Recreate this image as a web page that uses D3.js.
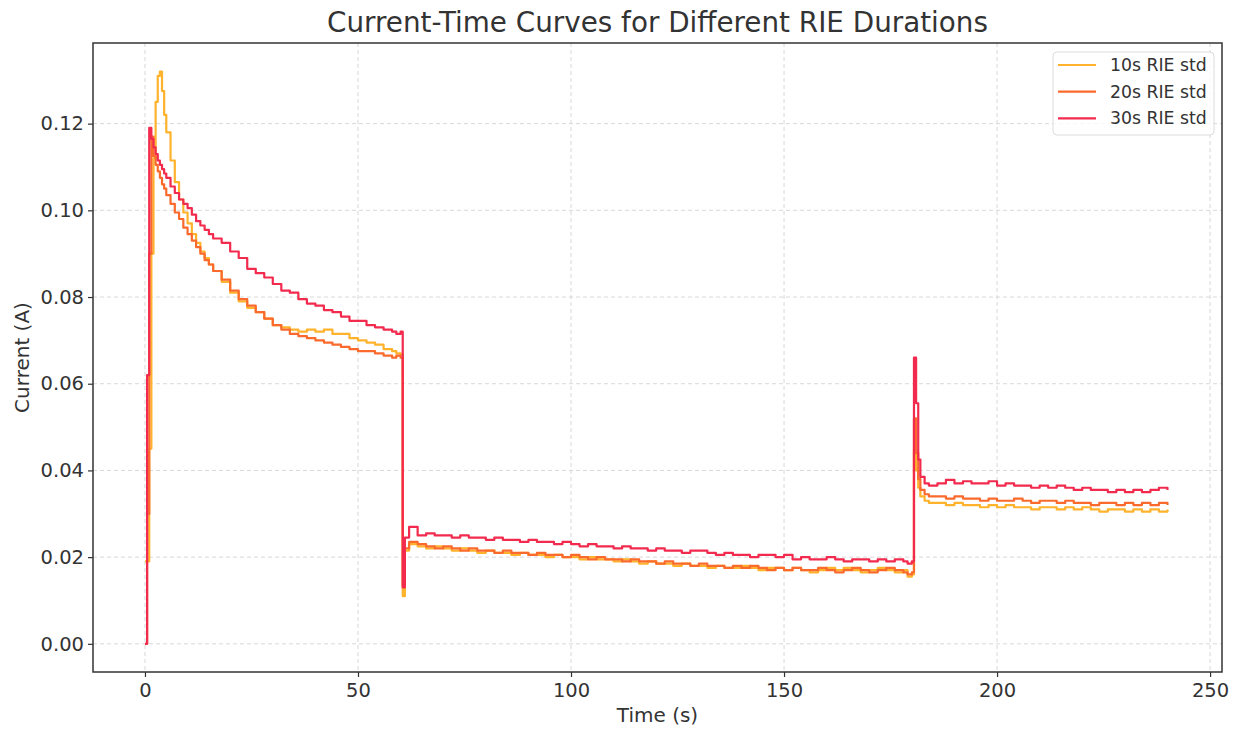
<!DOCTYPE html>
<html>
<head>
<meta charset="utf-8">
<script src="https://cdn.jsdelivr.net/npm/d3@7"></script>
<style>
  body { margin: 0; background: #fff; }
  svg { display: block; font-family: "DejaVu Sans", sans-serif; }
</style>
</head>
<body>
<svg width="1243" height="729"></svg>
<script>
// sample times (s)
const times = [
  0, 0.5, 1, 1.5, 2, 2.5, 3, 3.5, 4, 4.5, 5,
  6, 7, 8, 9, 10, 11, 12, 13, 14, 15, 16,
  18, 20, 22, 24, 26, 28, 30, 32, 34, 36, 38, 40, 42, 44, 46, 48, 50, 52, 54, 56, 58,
  59, 60,
  60.5, 61,
  62, 64, 66, 68, 70, 72, 74, 76, 78, 80,
  82, 84, 86, 88, 90, 92, 94, 96, 98, 100,
  102, 104, 106, 108, 110, 112, 114, 116, 118, 120,
  122, 124, 126, 128, 130, 132, 134, 136, 138, 140,
  142, 144, 146, 148, 150, 152, 154, 156, 158, 160,
  162, 164, 166, 168, 170, 172, 174, 176, 178,
  179, 180,
  180.5, 181, 181.5, 182, 183, 184,
  186, 188, 190, 192, 194, 196, 198, 200, 202, 204,
  206, 208, 210, 212, 214, 216, 218, 220, 222, 224,
  226, 228, 230, 232, 234, 236, 238, 240
];

// current (A), 10s RIE std
const rie10 = [
  0.019, 0.019, 0.045, 0.09, 0.112, 0.125, 0.131, 0.132, 0.1275, 0.122, 0.118,
  0.1115, 0.1065, 0.1025, 0.0995, 0.097, 0.0945, 0.0925, 0.0905, 0.089, 0.0875, 0.086,
  0.0835, 0.081, 0.079, 0.0775, 0.0765, 0.075, 0.0735, 0.073, 0.0725, 0.072, 0.0725, 0.072, 0.0725, 0.0715, 0.0715, 0.0705, 0.07, 0.0695, 0.069, 0.068, 0.0675,
  0.067, 0.0668,
  0.011, 0.0215,
  0.023, 0.0225, 0.022, 0.0225, 0.022, 0.0215, 0.022, 0.0215, 0.021, 0.0215,
  0.021, 0.021, 0.0205, 0.021, 0.0205, 0.0205, 0.02, 0.0205, 0.02, 0.02,
  0.0195, 0.02, 0.0195, 0.0195, 0.019, 0.0195, 0.019, 0.0185, 0.019, 0.0185,
  0.0185, 0.018, 0.0185, 0.018, 0.018, 0.0175, 0.018, 0.0175, 0.0175, 0.018,
  0.0175, 0.017, 0.0175, 0.0175, 0.017, 0.0175, 0.017, 0.0165, 0.017, 0.0175,
  0.017, 0.0175, 0.017, 0.0165, 0.017, 0.0175, 0.017, 0.0165, 0.017,
  0.0155, 0.016,
  0.045, 0.04, 0.036, 0.034, 0.033, 0.0325,
  0.0325, 0.032, 0.0325, 0.032, 0.032, 0.0315, 0.032, 0.0315, 0.032, 0.0315,
  0.0315, 0.031, 0.0315, 0.0315, 0.031, 0.0315, 0.031, 0.0315, 0.031, 0.0305,
  0.031, 0.031, 0.0305, 0.031, 0.0305, 0.031, 0.0305, 0.031
];

// current (A), 20s RIE std
const rie20 = [
  0, 0.03, 0.09, 0.117, 0.1125, 0.1105, 0.109, 0.1075, 0.106, 0.105, 0.1035,
  0.1015, 0.0995, 0.098, 0.096, 0.0945, 0.093, 0.0915, 0.09, 0.0885, 0.0875, 0.086,
  0.084, 0.0815, 0.0795, 0.078, 0.0765, 0.075, 0.0735, 0.0725, 0.0715, 0.071, 0.0705, 0.07, 0.0695, 0.069, 0.0685, 0.068, 0.0675, 0.0675, 0.067, 0.0665, 0.066,
  0.0665, 0.066,
  0.0135, 0.022,
  0.0235, 0.023, 0.0225, 0.022, 0.0225, 0.022, 0.0215, 0.022, 0.0215, 0.0215,
  0.021, 0.0215, 0.021, 0.021, 0.0205, 0.021, 0.0205, 0.0205, 0.02, 0.0205,
  0.02, 0.0195, 0.02, 0.0195, 0.0195, 0.019, 0.0195, 0.019, 0.019, 0.0185,
  0.019, 0.0185, 0.0185, 0.018, 0.0185, 0.018, 0.018, 0.0175, 0.018, 0.0175,
  0.018, 0.0175, 0.017, 0.0175, 0.017, 0.0175, 0.017, 0.017, 0.0175, 0.017,
  0.0165, 0.017, 0.0175, 0.017, 0.0165, 0.017, 0.0175, 0.017, 0.0165,
  0.016, 0.0165,
  0.052, 0.044, 0.038, 0.0355, 0.0345, 0.034,
  0.034, 0.0335, 0.034, 0.0335, 0.0335, 0.033, 0.0335, 0.033, 0.033, 0.0335,
  0.033, 0.0325, 0.033, 0.033, 0.0325, 0.033, 0.0325, 0.0325, 0.032, 0.0325,
  0.0325, 0.032, 0.0325, 0.032, 0.0325, 0.032, 0.0325, 0.032
];

// current (A), 30s RIE std
const rie30 = [
  0, 0.062, 0.119, 0.1165, 0.1145, 0.113, 0.1115, 0.1105, 0.1095, 0.1085, 0.1075,
  0.1055, 0.104, 0.1025, 0.1015, 0.1005, 0.099, 0.0975, 0.0965, 0.0955, 0.0945, 0.0935,
  0.0925, 0.0905, 0.089, 0.0865, 0.0855, 0.0845, 0.083, 0.0815, 0.081, 0.0795, 0.0785, 0.078, 0.077, 0.0765, 0.0755, 0.0745, 0.0745, 0.0735, 0.073, 0.0725, 0.072,
  0.0715, 0.072,
  0.013, 0.0245,
  0.027, 0.025, 0.0255, 0.025, 0.025, 0.0245, 0.025, 0.0245, 0.0245, 0.024,
  0.0245, 0.024, 0.024, 0.0235, 0.024, 0.0235, 0.0235, 0.023, 0.0235, 0.023,
  0.0225, 0.023, 0.0225, 0.0225, 0.022, 0.0225, 0.022, 0.022, 0.0215, 0.022,
  0.0215, 0.0215, 0.021, 0.0215, 0.0215, 0.021, 0.0205, 0.021, 0.0205, 0.0205,
  0.02, 0.0205, 0.0205, 0.02, 0.0205, 0.0195, 0.02, 0.0195, 0.0195, 0.02,
  0.0195, 0.019, 0.0195, 0.0195, 0.019, 0.0195, 0.019, 0.0195, 0.019,
  0.0185, 0.019,
  0.066, 0.0555, 0.0425, 0.0385, 0.037, 0.0365,
  0.037, 0.0378, 0.037, 0.0375, 0.037, 0.037, 0.0375, 0.0365, 0.037, 0.0365,
  0.0365, 0.036, 0.0365, 0.036, 0.0365, 0.036, 0.0355, 0.036, 0.0355, 0.0355,
  0.035, 0.0355, 0.035, 0.0355, 0.035, 0.0355, 0.036, 0.0355
];

const seriesNames = ["10s RIE std", "20s RIE std", "30s RIE std"];
const seriesColors = ["#ffb22c", "#fa6a2c", "#f22a4e"];
const xTicks = [0, 50, 100, 150, 200, 250];
const yTicks = [0, 0.02, 0.04, 0.06, 0.08, 0.10, 0.12];

const svg = d3.select("svg");
const margin = { top: 43, right: 21, bottom: 57, left: 93 };
const width = +svg.attr("width");
const height = +svg.attr("height");
const x0 = margin.left, x1 = width - margin.right;
const y0 = margin.top, y1 = height - margin.bottom;

const x = d3.scaleLinear().domain([-12.2, 252.8]).range([x0, x1]);
const y = d3.scaleLinear().domain([-0.0065, 0.1386]).range([y1, y0]);

const series = [rie10, rie20, rie30].map((vals, i) => ({
  name: seriesNames[i],
  color: seriesColors[i],
  points: d3.zip(times, vals)
}));

// grid
const grid = svg.append("g").attr("stroke", "#d4d4d4").attr("stroke-dasharray", "4,3").attr("stroke-width", 0.9);
grid.selectAll(".gx").data(xTicks).enter().append("line")
  .attr("x1", d => x(d)).attr("x2", d => x(d))
  .attr("y1", y0).attr("y2", y1);
grid.selectAll(".gy").data(yTicks).enter().append("line")
  .attr("x1", x0).attr("x2", x1)
  .attr("y1", d => y(d)).attr("y2", d => y(d));

// lines
svg.append("clipPath").attr("id", "clip")
  .append("rect").attr("x", x0).attr("y", y0).attr("width", x1 - x0).attr("height", y1 - y0);

const line = d3.line()
  .x(d => x(d[0]))
  .y(d => y(d[1]))
  .curve(d3.curveStepAfter);

svg.append("g").attr("clip-path", "url(#clip)")
  .selectAll("path").data(series).enter().append("path")
  .attr("d", d => line(d.points))
  .attr("fill", "none")
  .attr("stroke", d => d.color)
  .attr("stroke-width", 2.2)
  .attr("stroke-linejoin", "round");

// axes
const xAxis = svg.append("g")
  .attr("transform", `translate(0,${y1})`)
  .call(d3.axisBottom(x).tickValues(xTicks).tickSize(5).tickPadding(6).tickFormat(d3.format("d")));
const yAxis = svg.append("g")
  .attr("transform", `translate(${x0},0)`)
  .call(d3.axisLeft(y).tickValues(yTicks).tickSize(5).tickPadding(4).tickFormat(d3.format(".2f")));

[xAxis, yAxis].forEach(a => {
  a.select(".domain").remove();
  a.selectAll(".tick line").attr("stroke", "#333").attr("stroke-width", 1.2);
  a.selectAll(".tick text").attr("fill", "#333").style("font-size", "19.5px").style("font-family", "DejaVu Sans");
});

// frame
svg.append("rect")
  .attr("x", x0).attr("y", y0)
  .attr("width", x1 - x0).attr("height", y1 - y0)
  .attr("fill", "none").attr("stroke", "#333").attr("stroke-width", 1.5);

// labels
svg.append("text")
  .attr("x", (x0 + x1) / 2).attr("y", 32)
  .attr("text-anchor", "middle")
  .attr("fill", "#333")
  .style("font-size", "27.8px")
  .text("Current-Time Curves for Different RIE Durations");

svg.append("text")
  .attr("x", (x0 + x1) / 2).attr("y", 722)
  .attr("text-anchor", "middle")
  .attr("fill", "#333")
  .style("font-size", "20px")
  .text("Time (s)");

svg.append("text")
  .attr("transform", `translate(29,${(y0 + y1) / 2}) rotate(-90)`)
  .attr("text-anchor", "middle")
  .attr("fill", "#333")
  .style("font-size", "20px")
  .text("Current (A)");

// legend
const legend = svg.append("g").attr("transform", "translate(1053,52)");
legend.append("rect")
  .attr("width", 161).attr("height", 83)
  .attr("rx", 4)
  .attr("fill", "#fff").attr("fill-opacity", 0.8)
  .attr("stroke", "#dcdcdc");

const rows = legend.selectAll(".row").data(series).enter().append("g")
  .attr("transform", (d, i) => `translate(0,${13 + i * 26.7})`);
rows.append("line")
  .attr("x1", 5).attr("x2", 43)
  .attr("stroke", d => d.color).attr("stroke-width", 2.2);
rows.append("text")
  .attr("x", 57).attr("dy", "0.35em")
  .attr("fill", "#333")
  .style("font-size", "17.3px")
  .text(d => d.name);
</script>
</body>
</html>
